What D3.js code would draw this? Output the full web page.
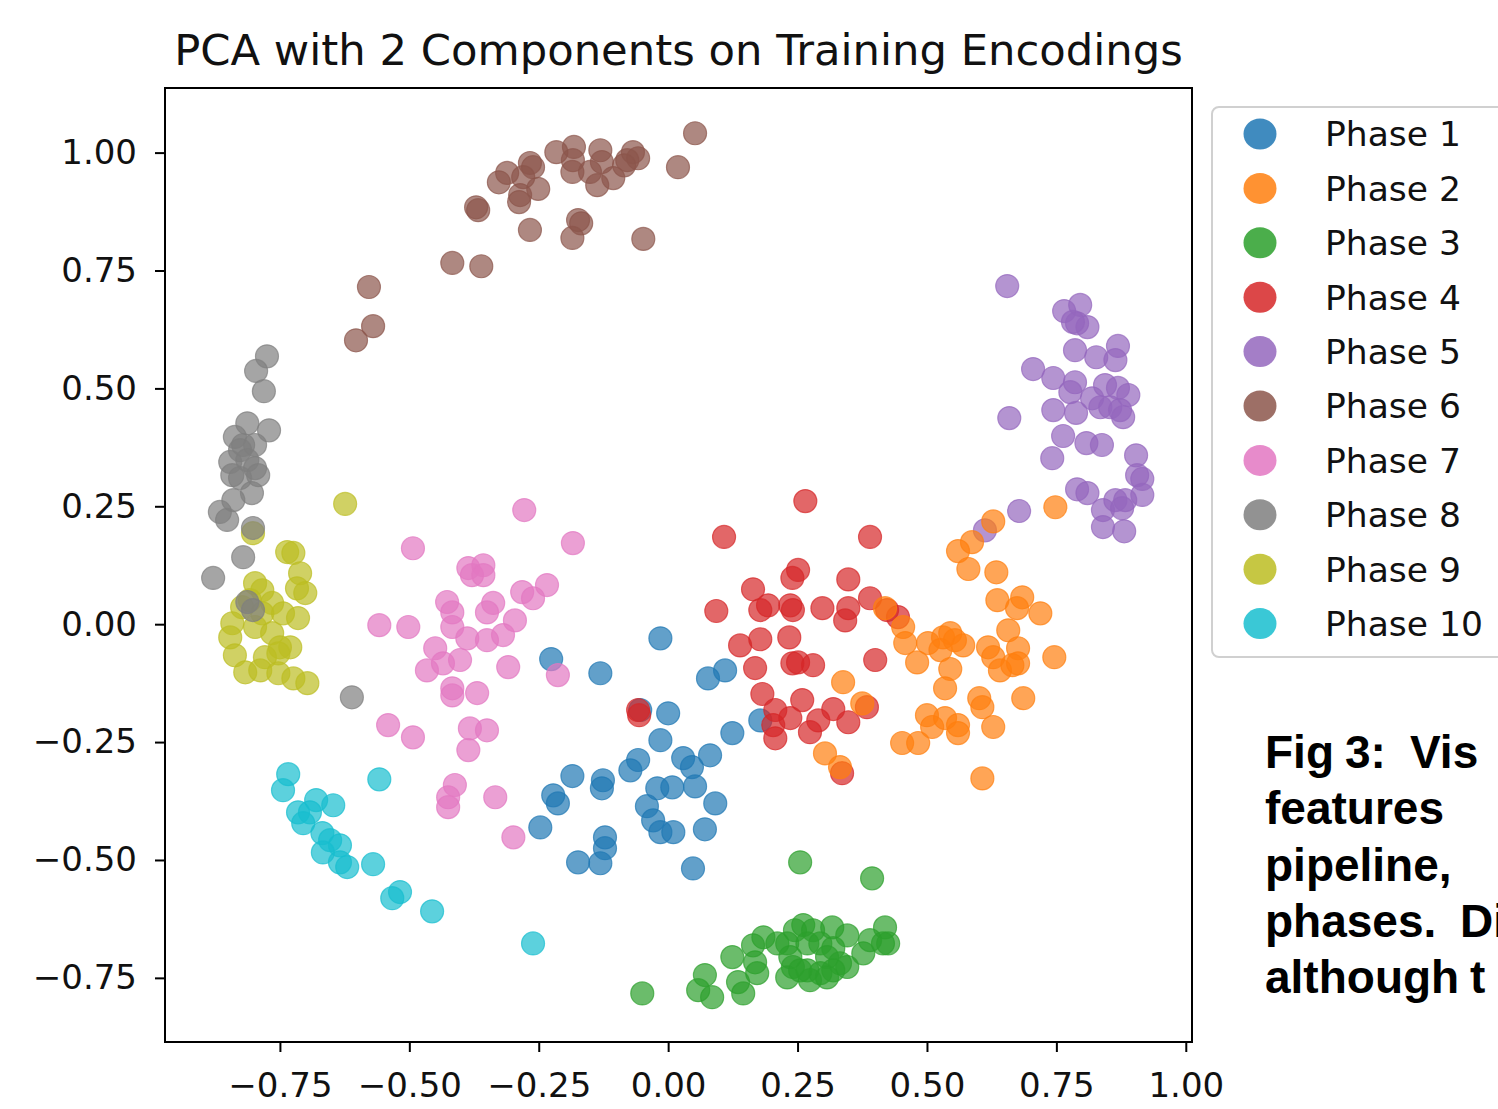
<!DOCTYPE html>
<html><head><meta charset="utf-8">
<script src="https://cdn.jsdelivr.net/npm/d3@7"></script>
<style>html,body{margin:0;padding:0;background:#fff;}svg{display:block;}</style>
</head><body>
<svg id="chart" width="1498" height="1109"></svg>
<script>
// ---- data ----
const title = "PCA with 2 Components on Training Encodings";
const phaseNames = ["Phase 1","Phase 2","Phase 3","Phase 4","Phase 5","Phase 6","Phase 7","Phase 8","Phase 9","Phase 10"];
const phaseColors = ["#1f77b4","#ff7f0e","#2ca02c","#d62728","#9467bd","#8c564b","#e377c2","#7f7f7f","#bcbd22","#17becf"];
const xTicks = [-0.75,-0.5,-0.25,0,0.25,0.5,0.75,1.0];
const yTicks = [-0.75,-0.5,-0.25,0,0.25,0.5,0.75,1.0];
const xDomain = [-0.972, 1.012];
const yDomain = [-0.886, 1.137];
const caption = [["Fig","3:","Vis"],["features"],["pipeline,"],["phases.","Di"],["although","t"]];

const phase1 = [[-0.015,-0.030],[-0.226,-0.074],[-0.131,-0.104],[0.077,-0.115],[0.110,-0.098],[-0.054,-0.182],[0.000,-0.189],[0.178,-0.204],[0.124,-0.231],[-0.015,-0.246],[-0.058,-0.288],[-0.073,-0.310],[0.029,-0.284],[0.046,-0.303],[0.081,-0.278],[-0.185,-0.322],[-0.126,-0.331],[-0.128,-0.348],[-0.222,-0.363],[-0.213,-0.380],[-0.021,-0.348],[0.008,-0.346],[0.052,-0.344],[-0.041,-0.386],[0.091,-0.380],[-0.029,-0.416],[-0.015,-0.441],[0.010,-0.441],[-0.247,-0.431],[0.071,-0.435],[-0.122,-0.452],[-0.122,-0.475],[-0.174,-0.505],[-0.131,-0.507],[0.048,-0.518]];
const phase2 = [[0.748,0.248],[0.628,0.218],[0.587,0.174],[0.560,0.155],[0.580,0.117],[0.634,0.110],[0.636,0.051],[0.684,0.057],[0.674,0.034],[0.719,0.023],[0.419,0.034],[0.454,-0.006],[0.458,-0.040],[0.481,-0.081],[0.502,-0.040],[0.531,-0.028],[0.545,-0.019],[0.554,-0.034],[0.570,-0.045],[0.526,-0.055],[0.545,-0.095],[0.535,-0.136],[0.618,-0.049],[0.657,-0.013],[0.676,-0.051],[0.628,-0.070],[0.641,-0.098],[0.665,-0.087],[0.676,-0.083],[0.746,-0.070],[0.686,-0.157],[0.601,-0.157],[0.607,-0.176],[0.500,-0.193],[0.510,-0.218],[0.535,-0.199],[0.560,-0.214],[0.560,-0.231],[0.628,-0.218],[0.452,-0.252],[0.483,-0.252],[0.607,-0.327],[0.338,-0.123],[0.375,-0.168],[0.303,-0.274],[0.332,-0.303]];
const phase3 = [[0.255,-0.505],[0.394,-0.539],[0.419,-0.643],[0.425,-0.677],[0.415,-0.677],[0.377,-0.698],[0.390,-0.670],[0.346,-0.660],[0.317,-0.643],[0.261,-0.638],[0.245,-0.649],[0.280,-0.649],[0.230,-0.677],[0.269,-0.677],[0.294,-0.677],[0.319,-0.687],[0.307,-0.706],[0.332,-0.719],[0.346,-0.727],[0.319,-0.734],[0.294,-0.740],[0.269,-0.734],[0.236,-0.706],[0.241,-0.727],[0.230,-0.749],[0.274,-0.755],[0.307,-0.749],[0.255,-0.734],[0.211,-0.677],[0.184,-0.664],[0.164,-0.681],[0.124,-0.706],[0.168,-0.717],[0.172,-0.740],[0.135,-0.759],[0.145,-0.783],[0.071,-0.744],[0.058,-0.776],[0.085,-0.791],[-0.050,-0.783]];
const phase4 = [[0.265,0.261],[0.108,0.185],[0.390,0.185],[0.251,0.115],[0.240,0.098],[0.348,0.095],[0.164,0.074],[0.093,0.028],[0.193,0.040],[0.178,0.030],[0.236,0.040],[0.241,0.030],[0.298,0.034],[0.348,0.034],[0.342,0.008],[0.390,0.055],[0.423,0.030],[0.444,0.015],[0.139,-0.045],[0.178,-0.032],[0.234,-0.028],[0.400,-0.076],[0.168,-0.093],[0.240,-0.083],[0.251,-0.081],[0.280,-0.087],[0.182,-0.148],[0.259,-0.161],[0.207,-0.182],[0.319,-0.180],[0.384,-0.176],[-0.058,-0.182],[-0.056,-0.193],[0.203,-0.214],[0.236,-0.199],[0.290,-0.204],[0.348,-0.208],[0.274,-0.229],[0.207,-0.242],[0.336,-0.316]];
const phase5 = [[0.655,0.717],[0.765,0.664],[0.796,0.677],[0.790,0.638],[0.810,0.630],[0.782,0.641],[0.786,0.581],[0.827,0.566],[0.869,0.590],[0.864,0.560],[0.705,0.541],[0.744,0.522],[0.786,0.513],[0.777,0.492],[0.819,0.479],[0.844,0.507],[0.869,0.501],[0.889,0.486],[0.835,0.460],[0.854,0.460],[0.873,0.454],[0.879,0.439],[0.744,0.454],[0.788,0.448],[0.659,0.437],[0.763,0.399],[0.808,0.384],[0.838,0.380],[0.742,0.352],[0.904,0.358],[0.906,0.316],[0.916,0.308],[0.916,0.274],[0.790,0.286],[0.810,0.278],[0.840,0.242],[0.864,0.263],[0.883,0.263],[0.877,0.246],[0.840,0.206],[0.881,0.197],[0.678,0.240],[0.612,0.199]];
const phase6 = [[0.052,1.041],[0.019,0.969],[-0.048,0.817],[-0.068,1.001],[-0.058,0.988],[-0.079,0.984],[-0.085,0.973],[-0.131,1.005],[-0.128,0.980],[-0.106,0.946],[-0.137,0.931],[-0.151,0.959],[-0.182,1.012],[-0.184,0.984],[-0.185,0.959],[-0.216,1.001],[-0.168,0.850],[-0.174,0.857],[-0.185,0.819],[-0.267,0.836],[-0.251,0.923],[-0.261,0.969],[-0.267,0.978],[-0.280,0.948],[-0.286,0.910],[-0.288,0.895],[-0.311,0.957],[-0.327,0.937],[-0.367,0.878],[-0.371,0.884],[-0.417,0.766],[-0.361,0.759],[-0.578,0.715],[-0.570,0.632],[-0.603,0.602]];
const phase7 = [[-0.278,0.242],[-0.184,0.172],[-0.493,0.161],[-0.386,0.119],[-0.357,0.125],[-0.379,0.104],[-0.357,0.104],[-0.282,0.068],[-0.234,0.083],[-0.261,0.055],[-0.427,0.047],[-0.417,0.025],[-0.338,0.045],[-0.350,0.025],[-0.558,-0.002],[-0.502,-0.006],[-0.417,-0.006],[-0.296,0.008],[-0.388,-0.030],[-0.350,-0.034],[-0.319,-0.023],[-0.450,-0.051],[-0.466,-0.098],[-0.435,-0.083],[-0.402,-0.076],[-0.309,-0.091],[-0.213,-0.108],[-0.417,-0.136],[-0.417,-0.151],[-0.369,-0.146],[-0.541,-0.214],[-0.493,-0.240],[-0.383,-0.221],[-0.350,-0.225],[-0.386,-0.267],[-0.412,-0.341],[-0.425,-0.367],[-0.425,-0.388],[-0.334,-0.367],[-0.299,-0.452]];
const phase8 = [[-0.775,0.568],[-0.796,0.537],[-0.781,0.494],[-0.813,0.426],[-0.771,0.411],[-0.837,0.397],[-0.821,0.380],[-0.798,0.380],[-0.827,0.369],[-0.846,0.344],[-0.813,0.348],[-0.798,0.331],[-0.842,0.316],[-0.792,0.316],[-0.827,0.310],[-0.804,0.278],[-0.840,0.263],[-0.866,0.238],[-0.852,0.221],[-0.802,0.204],[-0.821,0.142],[-0.879,0.098],[-0.813,0.047],[-0.802,0.030],[-0.611,-0.155]];
const phase9 = [[-0.624,0.255],[-0.802,0.193],[-0.736,0.153],[-0.724,0.151],[-0.711,0.108],[-0.717,0.076],[-0.701,0.066],[-0.798,0.087],[-0.784,0.072],[-0.808,0.051],[-0.765,0.045],[-0.784,0.023],[-0.744,0.023],[-0.715,0.013],[-0.842,0.002],[-0.846,-0.028],[-0.798,-0.006],[-0.765,-0.019],[-0.730,-0.049],[-0.750,-0.049],[-0.837,-0.066],[-0.779,-0.070],[-0.753,-0.062],[-0.817,-0.102],[-0.788,-0.098],[-0.753,-0.104],[-0.724,-0.115],[-0.697,-0.125],[-0.823,0.036]];
const phase10 = [[-0.734,-0.318],[-0.744,-0.352],[-0.558,-0.329],[-0.680,-0.373],[-0.647,-0.384],[-0.715,-0.399],[-0.692,-0.399],[-0.705,-0.422],[-0.668,-0.443],[-0.653,-0.458],[-0.634,-0.469],[-0.667,-0.484],[-0.634,-0.505],[-0.620,-0.515],[-0.570,-0.509],[-0.518,-0.568],[-0.533,-0.581],[-0.456,-0.609],[-0.261,-0.677]];
const phaseData = [phase1,phase2,phase3,phase4,phase5,phase6,phase7,phase8,phase9,phase10];
const drawOrder = [0,9,8,7,6,5,4,3,2,1];

// ---- layout ----
const svg = d3.select("#chart");
const plot = {left:165, right:1192, top:88, bottom:1042};
const x = d3.scaleLinear().domain(xDomain).range([plot.left, plot.right]);
const y = d3.scaleLinear().domain(yDomain).range([plot.bottom, plot.top]);
const fmt = d3.format(".2f");
const tickFont = "'DejaVu Sans', sans-serif";

svg.append("rect").attr("width",1498).attr("height",1109).attr("fill","#fff");

// points
const gPts = svg.append("g");
drawOrder.forEach(i => {
  gPts.append("g").selectAll("circle").data(phaseData[i]).join("circle")
    .attr("cx", d => x(d[0])).attr("cy", d => y(d[1])).attr("r", 11.5)
    .attr("fill", phaseColors[i]).attr("fill-opacity", 0.7)
    .attr("stroke", phaseColors[i]).attr("stroke-opacity", 0.7).attr("stroke-width", 1.2);
});

// frame
svg.append("rect").attr("x",plot.left).attr("y",plot.top)
  .attr("width",plot.right-plot.left).attr("height",plot.bottom-plot.top)
  .attr("fill","none").attr("stroke","#000").attr("stroke-width",2);

// axes
const xAxis = svg.append("g").attr("transform",`translate(0,${plot.bottom})`)
  .call(d3.axisBottom(x).tickValues(xTicks).tickFormat(fmt).tickSize(10).tickPadding(21));
const yAxis = svg.append("g").attr("transform",`translate(${plot.left},0)`)
  .call(d3.axisLeft(y).tickValues(yTicks).tickFormat(fmt).tickSize(10).tickPadding(18));
[xAxis,yAxis].forEach(a => {
  a.select(".domain").remove();
  a.selectAll(".tick line").attr("stroke","#000").attr("stroke-width",2);
  a.selectAll(".tick text").attr("fill","#111").style("font-family",tickFont).style("font-size","34px");
});

// title
svg.append("text").attr("x",(plot.left+plot.right)/2).attr("y",65)
  .attr("text-anchor","middle").style("font-family",tickFont).style("font-size","43.3px")
  .attr("fill","#111").text(title);

// legend
const lg = svg.append("g");
lg.append("rect").attr("x",1212).attr("y",107).attr("width",320).attr("height",550)
  .attr("rx",7).attr("fill","#fff").attr("stroke","#d0d0d0").attr("stroke-width",2);
phaseNames.forEach((name,i) => {
  const cy = 134 + i*54.4;
  lg.append("ellipse").attr("cx",1260).attr("cy",cy).attr("rx",16.5).attr("ry",15.5)
    .attr("fill",phaseColors[i]).attr("fill-opacity",0.85);
  lg.append("text").attr("x",1325).attr("y",cy).attr("dy","0.36em")
    .style("font-family",tickFont).style("font-size","34.5px").attr("fill","#111").text(name);
});

// caption (cropped figure text, cut at the right edge as in the source)
const capX = [[1265,1345,1410],[1265],[1265],[1265,1460],[1265,1470]];
caption.forEach((words,li) => {
  words.forEach((w,wi) => {
    svg.append("text").attr("x",capX[li][wi]).attr("y",768 + li*56.3)
      .style("font-family","'Liberation Sans', Arial, sans-serif").style("font-weight","bold")
      .style("font-size","46px").attr("fill","#000").text(w);
  });
});
</script>
</body></html>
